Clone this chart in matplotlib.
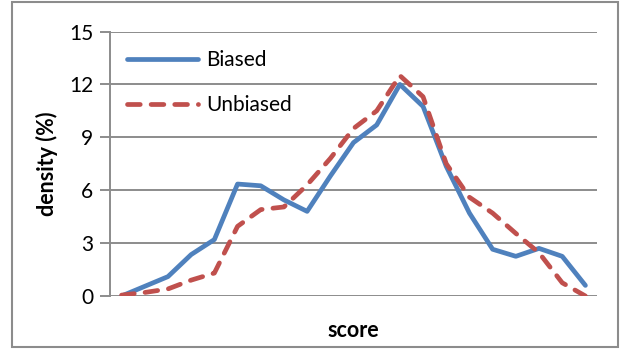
import numpy as np
import matplotlib
matplotlib.use("Agg")
import matplotlib.pyplot as plt
from matplotlib.patches import Rectangle

# data (21 score bins)
scores = np.arange(21)
biased = [0.0, 0.55, 1.1, 2.35, 3.2, 6.35, 6.25, 5.45, 4.8, 6.8, 8.7,
          9.7, 12.0, 10.75, 7.35, 4.7, 2.65, 2.25, 2.7, 2.25, 0.6]
unbiased = [0.05, 0.2, 0.4, 0.9, 1.3, 3.95, 4.9, 5.05, 6.3, 7.8, 9.5,
            10.5, 12.5, 11.3, 7.5, 5.6, 4.7, 3.55, 2.45, 0.75, 0.0]
yticks = [0, 3, 6, 9, 12, 15]

plt.rcParams["font.family"] = ["Lato", "DejaVu Sans"]

fig = plt.figure(figsize=(6.24, 3.49), dpi=100)
ax = fig.add_axes([110 / 624, 1 - 296 / 349, 487 / 624, 264.5 / 349])

grid_c = "#8c8c8c"
ax.plot(scores, biased, color="#4F81BD", lw=3.4, solid_capstyle="round",
        solid_joinstyle="round", label="Biased", zorder=3)
ax.plot(scores, unbiased, color="#C0504D", lw=3.4, dashes=(2.7, 2.3),
        dash_capstyle="round", label="Unbiased", zorder=3)

ax.set_xlim(-0.5, 20.5)
ax.set_ylim(0, 15)
ax.set_yticks(yticks)
ax.set_xticks([])
ax.yaxis.grid(True, color=grid_c, lw=1.4)
ax.set_axisbelow(True)
for s in ["top", "right", "bottom"]:
    ax.spines[s].set_visible(False)
ax.spines["left"].set_color(grid_c)
ax.spines["left"].set_linewidth(1.4)
ax.tick_params(axis="y", length=7, width=1.4, color=grid_c, labelsize=15,
               pad=5)

ax.set_ylabel("density (%)", fontsize=15.5, fontweight="bold", labelpad=8)
ax.set_xlabel("score", fontsize=15.5, fontweight="bold", labelpad=17)

ax.legend(loc="upper left", frameon=False, fontsize=15, handlelength=3.4,
          handletextpad=0.4, labelspacing=1.2, borderaxespad=0.3,
          bbox_to_anchor=(0.005, 0.985))

fig.patches.append(Rectangle((12 / 624, 2 / 349), 606 / 624, 345 / 349,
                             transform=fig.transFigure, fill=False,
                             edgecolor=grid_c, lw=1.5))

fig.savefig("out.png", dpi=100)
